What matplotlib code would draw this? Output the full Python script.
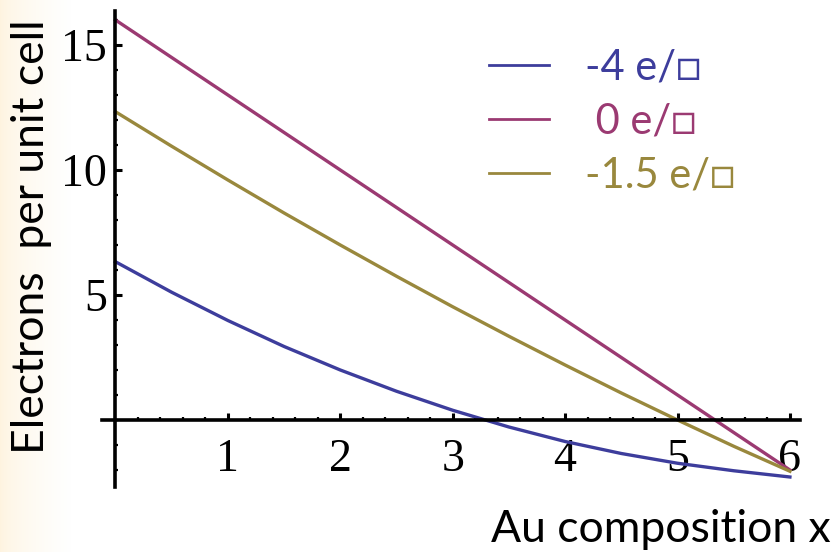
import numpy as np
import matplotlib.pyplot as plt
from matplotlib.ticker import FixedLocator
from matplotlib.lines import Line2D

# Au composition grid and electron counts for three surface charges
x_au = [0.0, 0.5, 1.0, 1.5, 2.0, 2.5, 3.0, 3.5, 4.0, 4.5, 5.0, 5.5, 6.0]
n_m4 = [6.33, 5.11, 3.98, 2.94, 2.00, 1.15, 0.39, -0.28, -0.86, -1.34, -1.73, -2.03, -2.28]
n_0 = [16.0, 14.5, 13.0, 11.5, 10.0, 8.5, 7.0, 5.5, 4.0, 2.5, 1.0, -0.5, -2.0]
n_m15 = [12.33, 10.95, 9.60, 8.28, 7.00, 5.75, 4.53, 3.35, 2.20, 1.08, 0.0, -1.05, -2.05]

labels = ['-4 e/\u25a1', ' 0 e/\u25a1', '-1.5 e/\u25a1']
colors = ['#3d3d9c', '#9b3a72', '#99883d']
xticks = [1, 2, 3, 4, 5, 6]
yticks = [5, 10, 15]

fig = plt.figure(figsize=(8.34, 5.52), dpi=100)

# cream slide background fading in from the left edge
bg = fig.add_axes([0, 0, 1, 1], zorder=-10)
grad = np.linspace(0, 1, 200) ** 0.6
rgb = np.ones((1, 200, 3))
beige = np.array([254, 243, 222]) / 255
for i in range(3):
    rgb[0, :, i] = beige[i] + (1 - beige[i]) * grad
bg.imshow(rgb, extent=[0, 0.085, 0, 1], aspect='auto')
bg.set_xlim(0, 1)
bg.set_ylim(0, 1)
bg.axis('off')

ax = fig.add_axes([93 / 834, 57 / 552, 719.4 / 834, 490 / 552])
ax.set_facecolor('none')
ax.set_xlim(-0.2, 6.2)
ax.set_ylim(-3, 16.6)

ax.plot(x_au, n_m4, color=colors[0], lw=2.4, label=labels[0])
ax.plot(x_au, n_0, color=colors[1], lw=2.4, label=labels[1])
ax.plot(x_au, n_m15, color=colors[2], lw=2.4, label=labels[2])

# axes crossing at the origin
for s in ['top', 'right']:
    ax.spines[s].set_visible(False)
ax.spines['left'].set_position(('data', 0))
ax.spines['bottom'].set_position(('data', 0))
ax.spines['left'].set_bounds(-2.68, 16.35)
ax.spines['bottom'].set_bounds(-0.12, 6.09)
for s in ['left', 'bottom']:
    ax.spines[s].set_linewidth(2.6)

ax.xaxis.set_major_locator(FixedLocator(xticks))
ax.xaxis.set_minor_locator(FixedLocator(np.arange(1, 31) * 0.2))
ax.yaxis.set_major_locator(FixedLocator(yticks))
ax.yaxis.set_minor_locator(FixedLocator(np.arange(-2, 17)))
ax.tick_params(which='major', direction='in', length=5, width=2.2)
ax.tick_params(which='minor', direction='in', length=2.5, width=1.6)
ax.tick_params(axis='x', which='major', pad=13)
ax.tick_params(axis='y', which='major', pad=6)
for t in ax.get_xticklabels() + ax.get_yticklabels():
    t.set_fontfamily('Liberation Serif')
    t.set_fontsize(33)

fig.text(32 / 834, 1 - 237 / 552, 'Electrons  per unit cell', rotation=90,
         ha='center', va='center', fontsize=32, family=['Lato', 'DejaVu Sans'])
fig.text(831 / 834, 1 - 530 / 552, 'Au composition x', ha='right', va='center',
         fontsize=32, family=['Lato', 'DejaVu Sans'])

handles = [Line2D([], [], color=c, lw=2) for c in colors]
leg = ax.legend(handles, labels, loc='upper left', bbox_to_anchor=(452 / 834, 1 - 11 / 552),
                bbox_transform=fig.transFigure, frameon=False, handlelength=1.44,
                handletextpad=0.86, labelspacing=0.39, labelcolor=colors,
                prop={'family': ['Lato', 'DejaVu Sans'], 'size': 30})

fig.savefig('out.png', dpi=100)
